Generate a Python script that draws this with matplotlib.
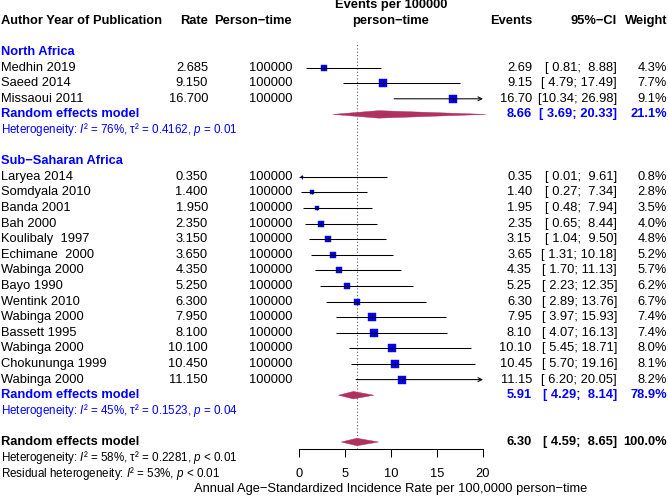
import matplotlib
matplotlib.use("Agg")
import matplotlib.pyplot as plt
import matplotlib.transforms as mtransforms
from matplotlib.patches import Polygon
from decimal import Decimal, ROUND_HALF_UP

plt.rcParams['font.family'] = ['Liberation Sans', 'DejaVu Sans']
plt.rcParams['mathtext.fontset'] = 'custom'
plt.rcParams['mathtext.rm'] = 'Liberation Sans'
plt.rcParams['mathtext.it'] = 'Liberation Sans:italic'
plt.rcParams['mathtext.bf'] = 'Liberation Sans:bold'

# data
na_studies = ["Medhin 2019", "Saeed 2014", "Missaoui 2011"]
na_rate = [2.685, 9.150, 16.700]
na_lo = [0.81, 4.79, 10.34]
na_hi = [8.88, 17.49, 26.98]
na_w = [4.3, 7.7, 9.1]

ssa_studies = ["Laryea 2014", "Somdyala 2010", "Banda 2001", "Bah 2000",
               "Koulibaly  1997", "Echimane  2000", "Wabinga 2000", "Bayo 1990",
               "Wentink 2010", "Wabinga 2000", "Bassett 1995", "Wabinga 2000",
               "Chokununga 1999", "Wabinga 2000"]
ssa_rate = [0.350, 1.400, 1.950, 2.350, 3.150, 3.650, 4.350, 5.250,
            6.300, 7.950, 8.100, 10.100, 10.450, 11.150]
ssa_lo = [0.01, 0.27, 0.48, 0.65, 1.04, 1.31, 1.70, 2.23,
          2.89, 3.97, 4.07, 5.45, 5.70, 6.20]
ssa_hi = [9.61, 7.34, 7.94, 8.44, 9.50, 10.18, 11.13, 12.35,
          13.76, 15.93, 16.13, 18.71, 19.16, 20.05]
ssa_w = [0.8, 2.8, 3.5, 4.0, 4.8, 5.2, 5.7, 6.2, 6.7, 7.4, 7.4, 8.0, 8.1, 8.2]

person_time = 100000

# summary: estimate, lower, upper, weight
na_sum = [8.66, 3.69, 20.33, 21.1]
ssa_sum = [5.91, 4.29, 8.14, 78.9]
all_sum = [6.30, 4.59, 8.65, 100.0]

na_het = "Heterogeneity: $I$\u00b2 = 76%, \u03c4\u00b2 = 0.4162, $p$ = 0.01"
ssa_het = "Heterogeneity: $I$\u00b2 = 45%, \u03c4\u00b2 = 0.1523, $p$ = 0.04"
all_het = "Heterogeneity: $I$\u00b2 = 58%, \u03c4\u00b2 = 0.2281, $p$ < 0.01"
resid_het = "Residual heterogeneity: $I$\u00b2 = 53%, $p$ < 0.01"

xticks = [0, 5, 10, 15, 20]
XMAX = 20

BLUE = "#0000FF"
DIAMOND = "#B03060"
FS = 9.3
FS_HET = 8.4
W, H = 668, 496
S0, DS = 5.2, 15.6   # pixel y of row 0, row spacing


def row_of(py):
    return (py - S0) / DS


fig = plt.figure(figsize=(W / 100, H / 100), dpi=100)
ax_top, ax_bot = 42, 449
ax = fig.add_axes([299 / W, (H - ax_bot) / H, 184 / W, (ax_bot - ax_top) / H])
ax.set_xlim(0, XMAX)
ax.set_ylim(row_of(ax_bot), row_of(ax_top))
for sp in ["top", "left", "right"]:
    ax.spines[sp].set_visible(False)
ax.spines["bottom"].set_bounds(0, XMAX)
ax.spines["bottom"].set_linewidth(0.75)
ax.set_yticks([])
ax.set_xticks(xticks)
ax.tick_params(axis="x", length=6, width=0.75, pad=8, labelsize=FS)

tr = mtransforms.blended_transform_factory(fig.transFigure, ax.transData)


def put(px, row, s, ha="left", **kw):
    kw.setdefault("fontsize", FS)
    ax.text(px / W, row, s, ha=ha, va="center", transform=tr, **kw)


def fmt2(v):
    return str(Decimal(str(v)).quantize(Decimal("0.01"), ROUND_HALF_UP))


def ci(lo, hi):
    return "[%5.2f; %5.2f]" % (lo, hi)


X_LAB, X_RATE, X_PT = 1, 208, 292
X_EV, X_CI, X_W = 532, 617, 667

# headers
put(391, 0, "Events per 100000", ha="center", fontweight="bold")
put(391, 1, "person\u2212time", ha="center", fontweight="bold")
put(X_LAB, 1, "Author Year of Publication", fontweight="bold")
put(X_RATE, 1, "Rate", ha="right", fontweight="bold")
put(X_PT, 1, "Person\u2212time", ha="right", fontweight="bold")
put(X_EV, 1, "Events", ha="right", fontweight="bold")
put(X_CI, 1, "95%\u2212CI", ha="right", fontweight="bold")
put(X_W, 1, "Weight", ha="right", fontweight="bold")

ax.axvline(all_sum[0], color="#555555", lw=0.8, ls=(0, (1, 2)), zorder=1)


def study_rows(start, names, rate, lo, hi, w):
    for i, name in enumerate(names):
        r = start + i
        put(X_LAB, r, name)
        put(X_RATE, r, "%.3f" % rate[i], ha="right")
        put(X_PT, r, str(person_time), ha="right")
        put(X_EV, r, fmt2(rate[i]), ha="right")
        put(X_CI, r, ci(lo[i], hi[i]), ha="right")
        put(X_W, r, "%.1f%%" % w[i], ha="right")
        side = 2.65 * w[i] ** 0.5 * 0.72
        ax.plot([rate[i]], [r], marker="s", ms=side, color=BLUE, mec=BLUE,
                mew=0.3, zorder=3, clip_on=False)
        if hi[i] > XMAX:
            ax.annotate("", xy=(XMAX, r), xytext=(lo[i], r), zorder=4,
                        arrowprops=dict(arrowstyle="->", lw=0.75, color="black",
                                        shrinkA=0, shrinkB=0, mutation_scale=7))
        else:
            ax.plot([lo[i], hi[i]], [r, r], color="black", lw=0.75, zorder=4,
                    clip_on=False, solid_capstyle="butt")
        ax.plot([rate[i]], [r], marker="|", ms=2.5, mew=0.6, color="black",
                zorder=5, clip_on=False)


def summary_row(r, summ, color, label="Random effects model"):
    est, lo, hi, w = summ
    put(X_LAB, r, label, fontweight="bold", color=color)
    put(X_EV, r, "%.2f" % est, ha="right", fontweight="bold", color=color)
    put(X_CI, r, ci(lo, hi), ha="right", fontweight="bold", color=color)
    put(X_W, r, "%.1f%%" % w, ha="right", fontweight="bold", color=color)
    hh = 0.24
    ax.add_patch(Polygon([(lo, r), (est, r - hh), (hi, r), (est, r + hh)],
                         closed=True, fc=DIAMOND, ec=DIAMOND, lw=0.3,
                         zorder=3, clip_on=False))


# North Africa
put(X_LAB, 3, "North Africa", fontweight="bold", color=BLUE)
study_rows(4, na_studies, na_rate, na_lo, na_hi, na_w)
summary_row(7, na_sum, BLUE)
put(X_LAB, 8, na_het, color=BLUE, fontsize=FS_HET)

# Sub-Saharan Africa
put(X_LAB, 10, "Sub\u2212Saharan Africa", fontweight="bold", color=BLUE)
study_rows(11, ssa_studies, ssa_rate, ssa_lo, ssa_hi, ssa_w)
summary_row(25, ssa_sum, BLUE)
put(X_LAB, 26, ssa_het, color=BLUE, fontsize=FS_HET)

# overall
summary_row(28, all_sum, "black")
put(X_LAB, 29, all_het, fontsize=FS_HET)
put(X_LAB, 30, resid_het, fontsize=FS_HET)

fig.text(391 / W, 1 - 489 / H,
         "Annual Age\u2212Standardized Incidence Rate per 100,0000 person\u2212time",
         ha="center", va="center", fontsize=FS)

fig.savefig("out.png", dpi=100)
